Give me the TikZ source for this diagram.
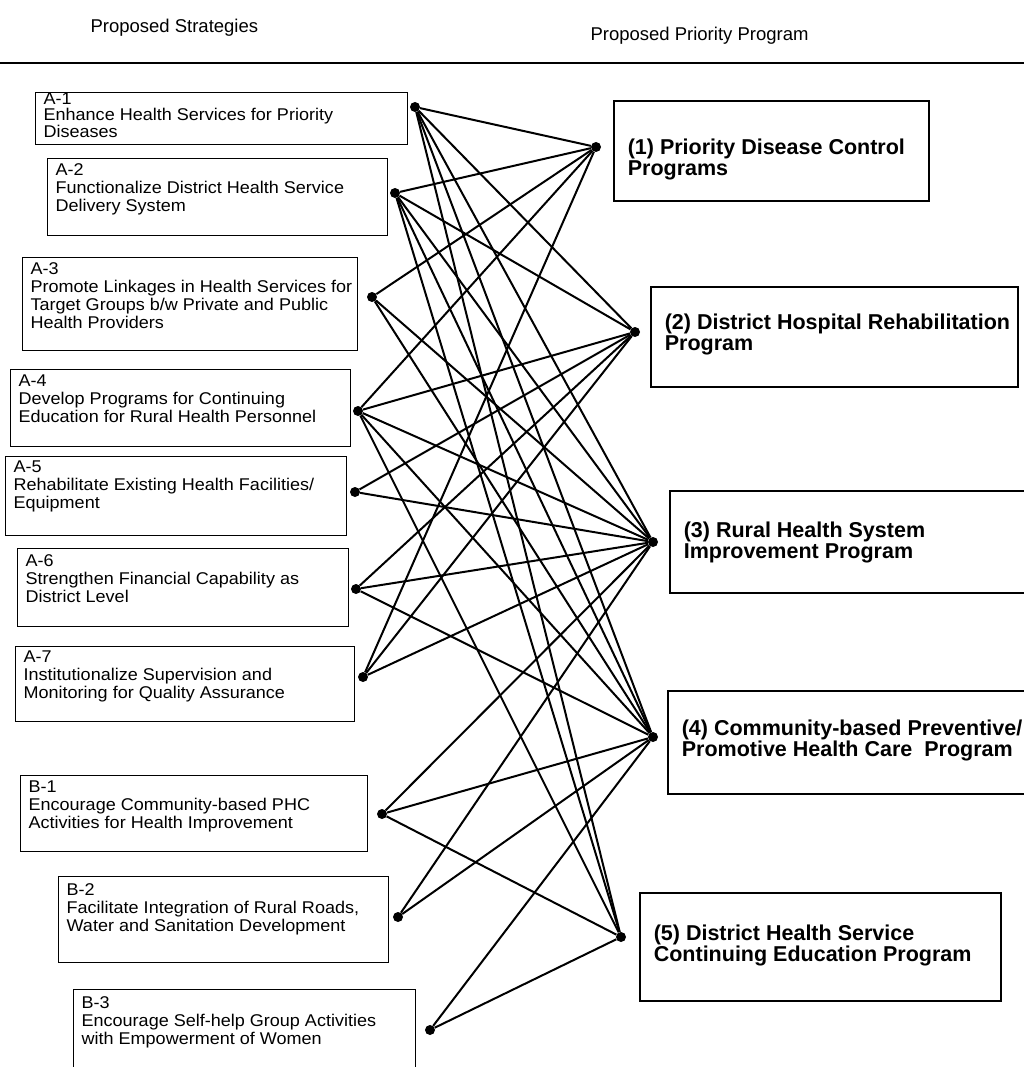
\documentclass[tikz,border=0pt]{standalone}
\usepackage{fontspec}
\setmainfont{Liberation Sans}
\newfontfamily\stratfont{Liberation Sans}[FakeStretch=1.06]
\usetikzlibrary{positioning}
% width, height, top pad, row stretch, lines
\newcommand{\boxtext}[5]{\parbox[c][#2][t]{#1}{\vspace{#3}\renewcommand{\arraystretch}{#4}%
  \begin{tabular}[t]{@{}l@{}}#5\end{tabular}}}
\tikzset{strat/.style={draw,line width=1.3pt,anchor=north west,inner xsep=8pt,inner ysep=0pt,
    font=\stratfont\fontsize{17}{18}\selectfont},
  prog/.style={draw,line width=1.6pt,anchor=north west,inner xsep=14pt,inner ysep=0pt,
    font=\bfseries\fontsize{21.5}{20}\selectfont},
  dot/.style={circle,fill=black,inner sep=0pt,minimum size=10pt},
  link/.style={line width=2pt},
  head/.style={anchor=west,font=\fontsize{18.5}{20}\selectfont}}

\begin{document}
\begin{tikzpicture}[x=1pt,y=-1pt]
\clip (0,0) rectangle (1024,1067);
\node[head] (hs) at (87,28) {Proposed Strategies};
\node[head] (hp) at (587,36) {Proposed Priority Program};
\coordinate (rl) at (0,63);
\coordinate (rr) at (1024,63);
\draw[line width=2pt] (rl) -- (rr);
% strategies
\foreach \n/\x/\y/\w/\h/\p/\s/\t in {
 a1/35/92/372/52/0/0.8/{A-1\\Enhance Health Services for Priority\\Diseases},
 a2/47/158/340/77/4.5/1/{A-2\\Functionalize District Health Service\\Delivery System},
 a3/22/257/335/93/4.5/1/{A-3\\Promote Linkages in Health Services for\\Target Groups b/w Private and Public\\Health Providers},
 a4/10/369/340/77/4.5/1/{A-4\\Develop Programs for Continuing\\Education for Rural Health Personnel},
 a5/5/456/341/79/3.5/1/{A-5\\Rehabilitate Existing Health Facilities/\\Equipment},
 a6/17/548/331/78/5.5/1/{A-6\\Strengthen Financial Capability as\\District Level},
 a7/15/646/339/75/3.5/1/{A-7\\Institutionalize Supervision and\\Monitoring for Quality Assurance},
 b1/20/775/347/76/4.5/1/{B-1\\Encourage Community-based PHC\\Activities for Health Improvement},
 b2/58/876/330/86/6.5/1/{B-2\\Facilitate Integration of Rural Roads,\\Water and Sanitation Development},
 b3/73/989/342/90/6.5/1/{B-3\\Encourage Self-help Group Activities\\with Empowerment of Women}}
 {\node[strat] (\n) at (\x,\y) {\boxtext{\dimexpr\w pt-16pt\relax}{\h pt}{\p pt}{\s}{\t}};}
% programs
\foreach \n/\x/\y/\w/\h/\p/\t in {
 p1/613/100/315/100/38/{(1) Priority Disease Control\\Programs},
 p2/650/286/367/100/27/{(2) District Hospital Rehabilitation\\Program},
 p3/669/490/380/102/31/{(3) Rural Health System\\Improvement Program},
 p4/667/690/380/103/29/{(4) Community-based Preventive/\\Promotive Health Care\ \ Program},
 p5/639/892/361/108/32/{(5) District Health Service\\Continuing Education Program}}
 {\node[prog] (\n) at (\x,\y) {\boxtext{\dimexpr\w pt-28pt\relax}{\h pt}{\p pt}{1}{\t}};}
% dots
\foreach \n/\x/\y in {a1/415/107,a2/395/193,a3/372/297,a4/358/411,a5/355/492,a6/356/589,
  a7/363/677,b1/382/814,b2/398/917,b3/430/1030,
  p1/596/147,p2/635/332,p3/653/542,p4/653/737,p5/621/937}
 {\node[dot] (d\n) at (\x,\y) {};}
\foreach \s/\t in {a1/p1,a1/p2,a1/p3,a1/p4,a1/p5,a2/p1,a2/p2,a2/p3,a2/p4,a2/p5,
  a3/p1,a3/p3,a3/p4,a4/p1,a4/p2,a4/p3,a4/p4,a4/p5,a5/p2,a5/p3,a6/p2,a6/p3,a6/p4,
  a7/p1,a7/p2,a7/p3,b1/p3,b1/p4,b1/p5,b2/p3,b2/p4,b3/p4,b3/p5}
 \draw[link] (d\s) -- (d\t);
\end{tikzpicture}
\end{document}
